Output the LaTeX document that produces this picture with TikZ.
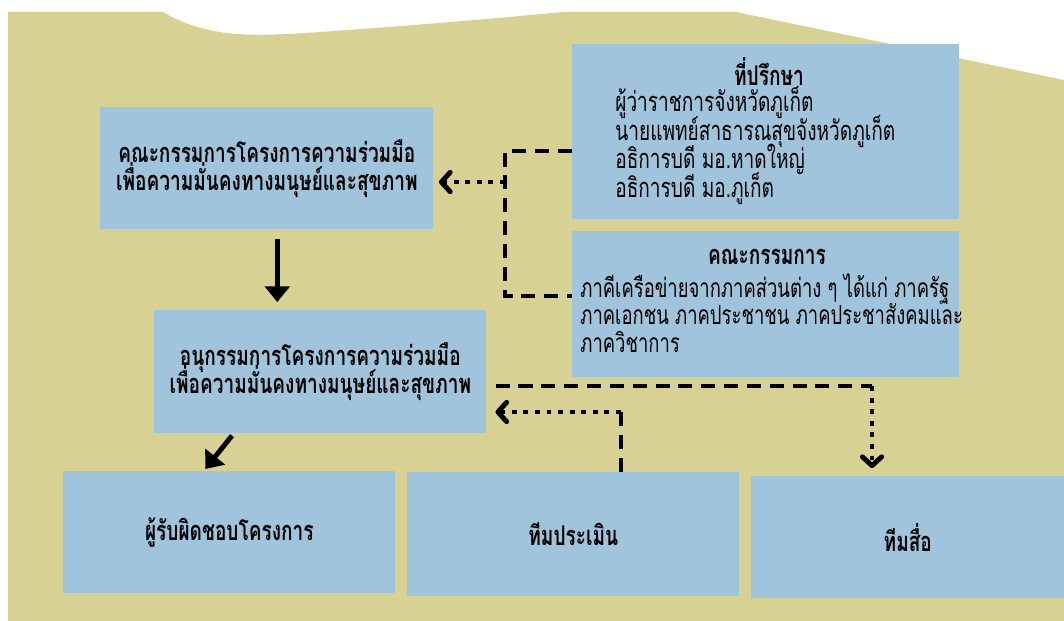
\documentclass[tikz,border=0pt]{standalone}
\usepackage{fontspec}
\setmainfont[Script=Thai,FakeStretch=0.7]{Loma}
\lineskiplimit=-\maxdimen
\usetikzlibrary{arrows.meta,positioning}
\definecolor{olive}{RGB}{215,210,147}
\definecolor{paleblue}{RGB}{160,196,219}
\tikzset{
  box/.style={fill=paleblue, anchor=north west, inner sep=0pt, align=center, font=\bfseries\fontsize{15.5}{16}\selectfont},
  dashline/.style={line width=2.8pt, dash pattern=on 8pt off 5pt},
  dotline/.style={line width=2.8pt, dash pattern=on 2.8pt off 3.8pt},
  chev/.style={-{Straight Barb[length=5pt,width=11pt,line width=2.8pt,line cap=round,line join=round]}},
  solidarrow/.style={line width=2.8pt, -{Triangle[width=14pt,length=9pt]}}
}
\begin{document}
\begin{tikzpicture}[x=0.02cm,y=-0.02cm]
\useasboundingbox (0,0) rectangle (1064,621);
\fill[olive] (8,621) -- (8,12) -- (163,12) .. controls (210,40) and (260,36) .. (320,32)
  .. controls (420,25) and (500,18) .. (563,12) -- (736,12) -- (1064,80) -- (1064,621) -- cycle;
\node[box, minimum width=7.74cm, minimum height=3.5cm] (adv) at (572,44) {};
\node[font=\bfseries\fontsize{15.5}{16}\selectfont] (adv-title) at (769,72) {ที่ปรึกษา};
\node[anchor=north west, align=left, inner sep=0pt, font=\fontsize{15.5}{16.3}\selectfont] (adv-list) at (615,86)
  {ผู้ว่าราชการจังหวัดภูเก็ต\\นายแพทย์สาธารณสุขจังหวัดภูเก็ต\\อธิการบดี มอ.หาดใหญ่\\อธิการบดี มอ.ภูเก็ต};
\node[box, minimum width=7.74cm, minimum height=2.92cm] (com) at (572,231) {};
\node[font=\bfseries\fontsize{15.5}{16}\selectfont] (com-title) at (767,257) {คณะกรรมการ};
\node[anchor=north west, align=left, inner sep=0pt, font=\fontsize{15}{15.7}\selectfont] (com-list) at (580,273)
  {ภาคีเครือข่ายจากภาคส่วนต่าง ๆ ได้แก่ ภาครัฐ\\ภาคเอกชน ภาคประชาชน ภาคประชาสังคมและ\\ภาควิชาการ};
\node[box, minimum width=6.66cm, minimum height=2.44cm] (main) at (100,107)
  {คณะกรรมการโครงการความร่วมมือ\\เพื่อความมั่นคงทางมนุษย์และสุขภาพ};
\node[box, minimum width=6.64cm, minimum height=2.46cm] (sub) at (154,310)
  {อนุกรรมการโครงการความร่วมมือ\\เพื่อความมั่นคงทางมนุษย์และสุขภาพ};
\node[box, minimum width=6.64cm, minimum height=2.44cm] (resp) at (63,471) {ผู้รับผิดชอบโครงการ};
\node[box, minimum width=6.64cm, minimum height=2.48cm] (eval) at (407,472) {ทีมประเมิน};
\node[box, minimum width=6.26cm, minimum height=2.44cm] (media) at (751,476) {ทีมสื่อ};
\coordinate (bus-top) at (505,151);
\coordinate (bus-mid) at (505,182);
\coordinate (bus-bot) at (505,296);
\coordinate (corner-r) at (872,386);
\coordinate (corner-e) at (621,412);
\coordinate (down-top) at ([xshift=0.21cm,yshift=-0.18cm]main.south);
\draw[dashline] (adv.west |- bus-top) -- (bus-top) -- (bus-bot) -- (com.west |- bus-bot);
\draw[dotline, chev, shorten >=3pt] (bus-mid) -- (main.east |- bus-mid);
\draw[solidarrow, shorten >=4.5pt] (down-top) -- (down-top |- sub.north);
\draw[solidarrow] ([xshift=1.56cm,yshift=-0.04cm]sub.south west) -- ([xshift=-0.48cm,yshift=0.04cm]resp.north);
\draw[dashline] ([xshift=0.18cm]sub.east |- corner-r) -- (corner-r);
\draw[dotline, chev, shorten >=4.5pt] (corner-r) -- (media.north -| corner-r);
\draw[dashline] (eval.north -| corner-e) -- (corner-e);
\draw[dotline, chev, shorten >=5pt] (corner-e) -- (sub.east |- corner-e);
\end{tikzpicture}
\end{document}
